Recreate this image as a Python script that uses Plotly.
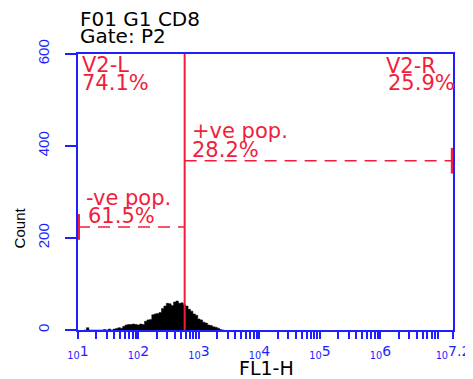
import numpy as np
import plotly.graph_objects as go

# ---------------- data ----------------
title_lines = ["F01 G1 CD8", "Gate: P2"]
x_axis_title = "FL1-H"
y_axis_title = "Count"

# histogram channels (log10 of FL1-H), bin start and width in decades
bin_start_log = 1.10
bin_width_log = 0.04
counts = [0, 5, 0, 0, 0, 0, 0, 0, 1, 0,
          2, 0, 2, 3, 5, 4, 8, 11, 12, 12,
          13, 12, 11, 13, 12, 19, 22, 23, 33, 35,
          36, 38, 47, 52, 58, 57, 53, 61, 63, 58,
          59, 55, 52, 45, 41, 35, 32, 24, 22, 17,
          15, 11, 10, 7, 6, 4, 1, 0]

# gates
gate_split_x = 580          # V2 divider (FL1-H)
neg_gate_y = 224            # -ve pop. marker height (count)
pos_gate_y = 368            # +ve pop. marker height (count)
gate_cap_half = 28          # half height of end caps (count)
x_min_log, x_max_log = 1.0, 7.2
y_min, y_max = 0, 600

y_tick_vals = [0, 200, 400, 600]
x_major_exp = [1, 2, 3, 4, 5, 6]
x_last_label = "7.2"

gate_texts = {
    "V2-L": "V2-L", "V2-L%": "74.1%",
    "V2-R": "V2-R", "V2-R%": "25.9%",
    "pos": "+ve pop.", "pos%": "28.2%",
    "neg": "-ve pop.", "neg%": "61.5%",
}

# ---------------- styles ----------------
BLUE = "#1f1fff"
RED = "#f01e3c"
FONT = "DejaVu Sans"

edges = [10 ** (bin_start_log + bin_width_log * i) for i in range(len(counts) + 1)]
hx = edges
hy = counts + [0]

fig = go.Figure()
fig.add_trace(go.Scatter(x=hx, y=hy, mode="lines", line=dict(shape="hv", color="black", width=0.5),
                         fill="tozeroy", fillcolor="black", hoverinfo="skip", showlegend=False))

xmin, xmax = 10 ** x_min_log, 10 ** x_max_log
red_line = dict(color=RED, width=2)
red_dash = dict(color=RED, width=1.6, dash="12px,8px")
# divider
fig.add_trace(go.Scatter(x=[gate_split_x, gate_split_x], y=[y_min, y_max], mode="lines",
                         line=red_line, showlegend=False, hoverinfo="skip"))
# -ve gate
fig.add_trace(go.Scatter(x=[xmin, gate_split_x], y=[neg_gate_y, neg_gate_y], mode="lines",
                         line=red_dash, showlegend=False, hoverinfo="skip"))
fig.add_trace(go.Scatter(x=[xmin * 1.03, xmin * 1.03], y=[neg_gate_y - gate_cap_half, neg_gate_y + gate_cap_half],
                         mode="lines", line=dict(color=RED, width=2.5), showlegend=False, hoverinfo="skip"))
# +ve gate
fig.add_trace(go.Scatter(x=[gate_split_x, xmax], y=[pos_gate_y, pos_gate_y], mode="lines",
                         line=red_dash, showlegend=False, hoverinfo="skip"))
fig.add_trace(go.Scatter(x=[xmax * 0.965, xmax * 0.965], y=[pos_gate_y - gate_cap_half, pos_gate_y + gate_cap_half],
                         mode="lines", line=dict(color=RED, width=2.5), showlegend=False, hoverinfo="skip"))

# x ticks: majors + minors
tickvals, ticktext = [], []
for e in x_major_exp:
    for m in range(1, 10):
        tickvals.append(m * 10 ** e)
        ticktext.append(f"<sub>10</sub>{e}" if m == 1 else "")
tickvals.append(xmax)
ticktext.append(f"<sub>10</sub>{x_last_label}")

fig.update_xaxes(type="log", range=[x_min_log, x_max_log], showgrid=False, zeroline=False,
                 showline=True, linecolor=BLUE, linewidth=2, mirror=True, automargin=False,
                 ticks="outside", ticklen=7, tickwidth=2, tickcolor=BLUE,
                 tickvals=tickvals, ticktext=ticktext,
                 tickfont=dict(family=FONT, size=14, color=BLUE), ticklabelstandoff=0)
fig.update_yaxes(range=[y_min, y_max], showgrid=False, zeroline=False, automargin=False,
                 showline=True, linecolor=BLUE, linewidth=2, mirror=True,
                 ticks="outside", ticklen=11, tickwidth=2, tickcolor=BLUE,
                 tickvals=y_tick_vals, ticktext=[str(v) for v in y_tick_vals], tickangle=-90,
                 tickfont=dict(family="Liberation Sans", size=15, color=BLUE), ticklabelstandoff=10)

ann = []
def txt(text, x, y, xanchor="left", xref="x", yref="y", size=21, color=RED, family=FONT, angle=0):
    ann.append(dict(text=text, x=x, y=y, xref=xref, yref=yref, xanchor=xanchor, yanchor="middle",
                    showarrow=False, textangle=angle, font=dict(family=family, size=size, color=color)))

# titles
txt(title_lines[0], 0.0, 1.127, xref="paper", yref="paper", size=20, color="black")
txt(title_lines[1], 0.0, 1.065, xref="paper", yref="paper", size=20, color="black")
txt(x_axis_title, 0.502, -0.138, xanchor="center", xref="paper", yref="paper", size=19, color="black")
txt(y_axis_title, -0.156, 0.37, xanchor="center", xref="paper", yref="paper", size=15, color="black",
    family="Liberation Sans", angle=-90)

# gate labels (x in log10 units)
txt(gate_texts["V2-L"], 1.041, 577)
txt(gate_texts["V2-L%"], 1.041, 537)
txt(gate_texts["V2-R"], 6.51, 575, xanchor="center")
txt(gate_texts["V2-R%"], 6.68, 536, xanchor="center")
txt(gate_texts["pos"], 2.858, 433)
txt(gate_texts["pos%"], 2.858, 392)
txt(gate_texts["neg"], 1.091, 287)
txt(gate_texts["neg%"], 1.124, 247)

# the page body adds an 8px offset, so the figure is sized to fill the rest of the window
fig.update_layout(width=465, height=371, margin=dict(l=70, r=20, t=46, b=49, autoexpand=False),
                  paper_bgcolor="white", plot_bgcolor="white", annotations=ann, showlegend=False)

fig.write_html("out.html")
